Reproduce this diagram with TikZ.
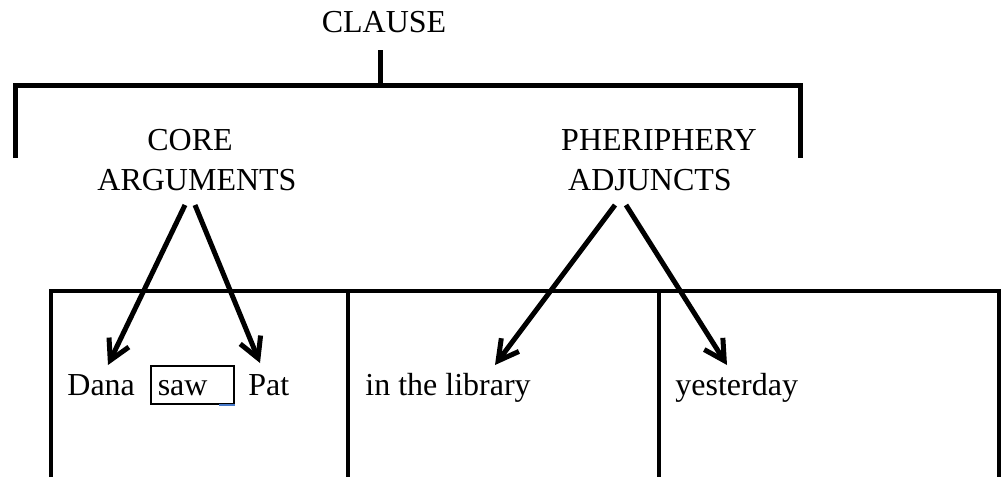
\documentclass[tikz,border=0pt]{standalone}
\usepackage{fontspec}
\setmainfont{Liberation Serif}
\usetikzlibrary{arrows.meta}
\definecolor{cursorblue}{RGB}{70,120,200}
\begin{document}
\begin{tikzpicture}
    [x=0.5pt,y=-0.5pt,
     headtext/.style={inner sep=0pt,anchor=base,font=\fontsize{16}{20}\selectfont},
     celltext/.style={headtext,anchor=base west},
     bracket/.style={line width=2.5pt},
     grid/.style={line width=2pt},
     arr/.style={line width=2.5pt,-{Straight Barb[length=10pt,width=11pt]}}]
    \useasboundingbox (0,0) rectangle (1002,477);
    %clause and its bracket
    \node[headtext] (clause) at (384,32) {CLAUSE};
    \draw[bracket] (380,50)--(380,85);
    \draw[bracket] (15,158)--(15,85)--(800,85)--(800,158);
    %the two parts
    \node[headtext] (core) at (190,150) {CORE};
    \node[headtext] (args) at (197,190) {ARGUMENTS};
    \node[headtext] (periph) at (659,150) {PHERIPHERY};
    \node[headtext] (adj) at (650,190) {ADJUNCTS};
    %table
    \draw[grid] (51,477)--(51,291)--(999,291)--(999,477);
    \draw[grid] (348,291)--(348,477);
    \draw[grid] (659,291)--(659,477);
    %cell contents
    \node[celltext] (dana) at (67,395) {Dana};
    \node[celltext,draw,line width=0.75pt,inner xsep=3.5pt,
          text width=34.5pt,align=left,text height=14.5pt,text depth=4.5pt]
          (saw) at (150,395) {saw};
    \draw[cursorblue,line width=0.75pt] (saw.south east)--([xshift=-8pt]saw.south east);
    \node[celltext] (pat) at (248,395) {Pat};
    \node[celltext] (lib) at (365,395) {in the library};
    \node[celltext] (yday) at (675,395) {yesterday};
    %arrow ends
    \coordinate (argsL) at (185,205);
    \coordinate (argsR) at (195,205);
    \coordinate (adjL) at (615,205);
    \coordinate (adjR) at (626,205);
    \coordinate (danaTip) at (108,365);
    \coordinate (patTip) at (260,363);
    \coordinate (libTip) at (495,365);
    \coordinate (ydayTip) at (727,365);
    %arrows
    \draw[arr] (argsL)--(danaTip);
    \draw[arr] (argsR)--(patTip);
    \draw[arr] (adjL)--(libTip);
    \draw[arr] (adjR)--(ydayTip);
\end{tikzpicture}
\end{document}
